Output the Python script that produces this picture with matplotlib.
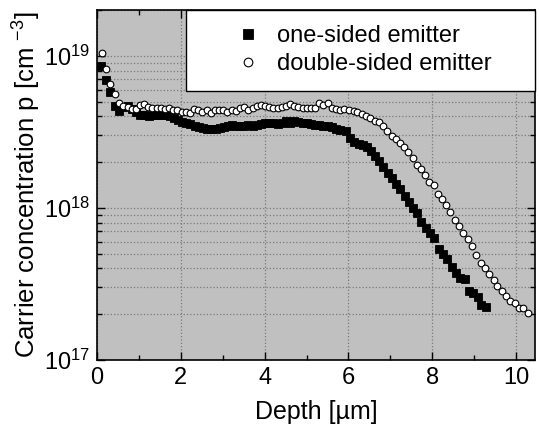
import matplotlib
matplotlib.use("Agg")
import matplotlib.pyplot as plt
from matplotlib.ticker import LogLocator, MultipleLocator, NullFormatter

plt.rcParams['font.family'] = ['Liberation Sans', 'DejaVu Sans']
plt.rcParams['mathtext.fontset'] = 'custom'
plt.rcParams['mathtext.rm'] = 'Liberation Sans'
plt.rcParams['mathtext.it'] = 'Liberation Sans:italic'
plt.rcParams['mathtext.default'] = 'regular'

# one-sided emitter (filled squares)
x_one = [0.09, 0.21, 0.31, 0.43, 0.53, 0.63, 0.73, 0.83, 0.93, 1.03,
         1.13, 1.23, 1.33, 1.43, 1.53, 1.63, 1.73, 1.83, 1.93, 2.03,
         2.13, 2.23, 2.33, 2.43, 2.53, 2.63, 2.73, 2.83, 2.93, 3.03,
         3.13, 3.21, 3.31, 3.41, 3.51, 3.61, 3.72, 3.81, 3.91, 4.02,
         4.11, 4.21, 4.31, 4.41, 4.51, 4.61, 4.71, 4.80, 4.91, 5.00,
         5.10, 5.20, 5.30, 5.40, 5.50, 5.60, 5.70, 5.80, 5.93, 6.04,
         6.13, 6.24, 6.34, 6.44, 6.54, 6.64, 6.74, 6.83, 6.94, 7.04,
         7.14, 7.24, 7.35, 7.45, 7.54, 7.64, 7.74, 7.84, 7.95, 8.04,
         8.16, 8.26, 8.36, 8.46, 8.56, 8.66, 8.77, 8.87, 8.97, 9.08,
         9.17, 9.27]
p_one = [8.6e18, 6.95e18, 5.77e18, 4.71e18, 4.35e18, 4.64e18, 4.69e18, 4.48e18, 4.28e18, 4.10e18,
         4.05e18, 4.00e18, 4.05e18, 4.05e18, 4.10e18, 4.05e18, 4.00e18, 3.88e18, 3.78e18, 3.68e18,
         3.62e18, 3.55e18, 3.45e18, 3.38e18, 3.33e18, 3.30e18, 3.30e18, 3.32e18, 3.36e18, 3.40e18,
         3.45e18, 3.52e18, 3.43e18, 3.43e18, 3.48e18, 3.52e18, 3.43e18, 3.52e18, 3.56e18, 3.61e18,
         3.64e18, 3.64e18, 3.56e18, 3.64e18, 3.70e18, 3.64e18, 3.70e18, 3.68e18, 3.64e18, 3.61e18,
         3.56e18, 3.52e18, 3.52e18, 3.46e18, 3.43e18, 3.38e18, 3.30e18, 3.26e18, 3.20e18, 2.90e18,
         2.73e18, 2.62e18, 2.60e18, 2.53e18, 2.35e18, 2.18e18, 2.02e18, 1.85e18, 1.69e18, 1.57e18,
         1.44e18, 1.33e18, 1.19e18, 1.10e18, 9.96e17, 9.2e17, 8.1e17, 7.4e17, 6.8e17, 6.3e17,
         5.4e17, 4.98e17, 4.6e17, 4.07e17, 3.72e17, 3.44e17, 3.43e17, 2.85e17, 2.75e17, 2.61e17,
         2.30e17, 2.24e17]

# double-sided emitter (open circles)
x_two = [0.11, 0.22, 0.32, 0.42, 0.53, 0.63, 0.73, 0.83, 0.93, 1.03,
         1.12, 1.22, 1.32, 1.42, 1.52, 1.62, 1.72, 1.82, 1.92, 2.02,
         2.12, 2.22, 2.31, 2.42, 2.51, 2.62, 2.71, 2.82, 2.91, 3.01,
         3.11, 3.21, 3.31, 3.41, 3.51, 3.61, 3.72, 3.81, 3.91, 4.02,
         4.11, 4.21, 4.31, 4.41, 4.51, 4.61, 4.71, 4.80, 4.91, 5.00,
         5.10, 5.20, 5.30, 5.40, 5.50, 5.60, 5.70, 5.80, 5.90, 6.01,
         6.12, 6.21, 6.32, 6.42, 6.52, 6.63, 6.72, 6.83, 6.93, 7.03,
         7.13, 7.23, 7.33, 7.43, 7.53, 7.63, 7.72, 7.83, 7.93, 8.03,
         8.13, 8.23, 8.33, 8.43, 8.54, 8.64, 8.74, 8.85, 8.94, 9.05,
         9.15, 9.25, 9.36, 9.46, 9.55, 9.66, 9.76, 9.86, 9.97, 10.07,
         10.17, 10.28]
p_two = [1.04e19, 8.2e18, 6.5e18, 5.6e18, 4.91e18, 4.66e18, 4.59e18, 4.48e18, 4.50e18, 4.75e18,
         4.80e18, 4.64e18, 4.53e18, 4.53e18, 4.53e18, 4.46e18, 4.53e18, 4.41e18, 4.41e18, 4.30e18,
         4.24e18, 4.20e18, 4.46e18, 4.41e18, 4.30e18, 4.41e18, 4.20e18, 4.41e18, 4.41e18, 4.37e18,
         4.30e18, 4.41e18, 4.35e18, 4.53e18, 4.64e18, 4.37e18, 4.53e18, 4.69e18, 4.76e18, 4.69e18,
         4.60e18, 4.53e18, 4.53e18, 4.64e18, 4.69e18, 4.81e18, 4.69e18, 4.60e18, 4.53e18, 4.53e18,
         4.53e18, 4.53e18, 4.89e18, 4.72e18, 4.89e18, 4.53e18, 4.48e18, 4.41e18, 4.45e18, 4.40e18,
         4.35e18, 4.28e18, 4.15e18, 3.99e18, 3.89e18, 3.72e18, 3.66e18, 3.46e18, 3.21e18, 2.98e18,
         2.85e18, 2.69e18, 2.53e18, 2.32e18, 2.14e18, 1.92e18, 1.80e18, 1.65e18, 1.49e18, 1.42e18,
         1.23e18, 1.14e18, 1.05e18, 9.4e17, 8.3e17, 7.6e17, 6.8e17, 6.2e17, 5.6e17, 4.9e17,
         4.33e17, 4.0e17, 3.66e17, 3.36e17, 3.08e17, 2.85e17, 2.62e17, 2.44e17, 2.36e17, 2.21e17,
         2.21e17, 2.04e17]

fig = plt.figure(figsize=(5.39, 4.28), dpi=100)
ax = fig.add_axes([97 / 539, 1 - 360 / 428, 438 / 539, 350 / 428])
ax.set_facecolor('#c0c0c0')

ax.plot(x_one, p_one, linestyle='none', marker='s', markersize=5.6,
        markerfacecolor='black', markeredgecolor='black', markeredgewidth=0.6,
        label='one-sided emitter', zorder=3)
ax.plot(x_two, p_two, linestyle='none', marker='o', markersize=4.8,
        markerfacecolor='white', markeredgecolor='black', markeredgewidth=0.8,
        label='double-sided emitter', zorder=4)

ax.set_yscale('log')
ax.set_xlim(0, 10.45)
ax.set_ylim(1e17, 2.0e19)

ax.xaxis.set_major_locator(MultipleLocator(2))
ax.xaxis.set_minor_locator(MultipleLocator(1))
ax.yaxis.set_major_locator(LogLocator(base=10, numticks=10))
ax.yaxis.set_minor_locator(LogLocator(base=10, subs=range(2, 10), numticks=10))
ax.yaxis.set_minor_formatter(NullFormatter())

ax.grid(True, which='major', axis='x', linestyle=':', color='#7a7a7a', linewidth=0.9)
ax.grid(True, which='both', axis='y', linestyle=':', color='#7a7a7a', linewidth=0.9)

ax.tick_params(which='both', direction='in', top=True, right=True, labelsize=17, width=1)
ax.tick_params(which='major', length=6, pad=5)
ax.tick_params(which='minor', length=3.5)
for s in ax.spines.values():
    s.set_linewidth(1.2)

ax.set_xlabel('Depth [µm]', fontsize=18, labelpad=8)
ax.set_ylabel('Carrier concentration p [cm $^{-3}$]', fontsize=18.5, labelpad=0.5)

leg = ax.legend(loc='upper left', bbox_to_anchor=(0.203, 0, 0.797, 1), mode='expand',
                fontsize=17, frameon=True, fancybox=False, framealpha=1,
                edgecolor='black', borderaxespad=0, markerscale=1.3,
                handlelength=4.0, handletextpad=-0.8, borderpad=0.65, labelspacing=0.25)
leg.get_frame().set_linewidth(1.0)

fig.savefig('out.png', dpi=100)
